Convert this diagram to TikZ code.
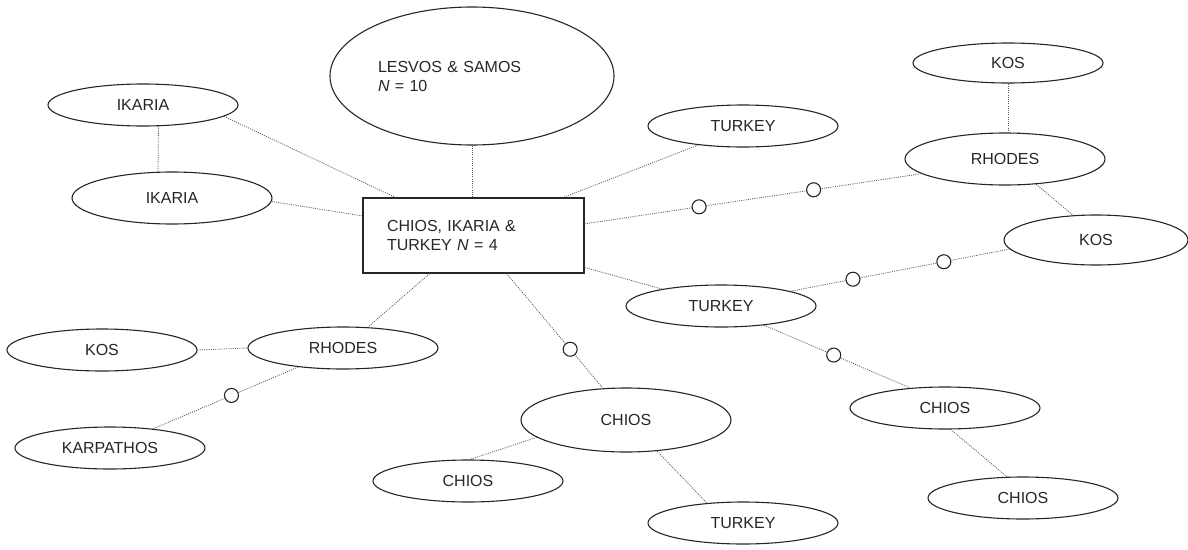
\documentclass[tikz,border=0pt]{standalone}
\usepackage{fontspec}
\setmainfont{Liberation Sans}
\usetikzlibrary{shapes.geometric}

\begin{document}
\begin{tikzpicture}[x=1pt,y=-1pt,
  island/.style={draw=black!85, line width=1.1pt, ellipse, inner sep=0pt,
    minimum width=190pt, minimum height=42pt, text=black!85,
    font=\fontsize{16}{19}\selectfont},
  link/.style={draw=black!65, line width=0.8pt, dash pattern=on 1pt off 1.2pt},
  hop/.style={draw=black!85, solid, line width=1.1pt, circle, fill=white,
    inner sep=0pt, minimum size=14pt}]

\useasboundingbox (0,0) rectangle (1188,549);

% centre box and big ellipse
\node[draw=black!85, line width=1.1pt, minimum width=221pt, minimum height=75pt,
  inner sep=0pt, text width=173pt, align=left, text=black!85,
  font=\fontsize{16}{19}\selectfont] (hub) at (473.5,235.5)
  {CHIOS, IKARIA \&\\TURKEY \textit{N} = 4};
\node[island, minimum width=284pt, minimum height=138pt, text width=188pt,
  align=left] (lesvos) at (472,76) {LESVOS \& SAMOS\\\textit{N} = 10};

% upper left
\node[island] (ika1) at (143,105) {IKARIA};
\node[island, minimum width=200pt, minimum height=52pt] (ika2) at (172,198) {IKARIA};

% right side
\node[island] (turk1) at (743,126) {TURKEY};
\node[island, minimum height=40pt] (kos1) at (1008,63) {KOS};
\node[island, minimum width=200pt, minimum height=52pt] (rho1) at (1005,159) {RHODES};
\node[island, minimum width=184pt, minimum height=50pt] (kos2) at (1096,240) {KOS};
\node[island] (turk2) at (721,306) {TURKEY};
\node[island] (chios3) at (945,408) {CHIOS};
\node[island] (chios4) at (1023,498) {CHIOS};

% lower left
\node[island] (kos3) at (102,350) {KOS};
\node[island] (rho2) at (343,348) {RHODES};
\node[island] (karp) at (110,448) {KARPATHOS};

% bottom
\node[island, minimum width=210pt, minimum height=64pt] (chios1) at (626,420) {CHIOS};
\node[island] (chios2) at (468,481) {CHIOS};
\node[island] (turk3) at (743,523) {TURKEY};

% links
\draw[link] (ika1.-54) -- (ika2.118);
\draw[link] (ika1.-8) -- (hub.154);
\draw[link] (ika2.-2) -- (hub.170);
\draw[link] (lesvos.south) -- (lesvos.south |- hub.north);
\draw[link] (turk1.-157) -- (hub.23);
\draw[link] (hub.6) -- node[hop, pos=.34] (h1) {} node[hop, pos=.68] (h2) {} (rho1.-170);
\draw[link] (kos1.south) -- (kos1.south |- rho1.north);
\draw[link] (rho1.-39) -- (kos2.133);
\draw[link] (kos2.-174) -- node[hop, pos=.3] (h3) {} node[hop, pos=.715] (h4) {} (turk2.12);
\draw[link] (hub.-16) -- (turk2.164);
\draw[link] (turk2.-24) -- node[hop, pos=.476] (h5) {} (chios3.150);
\draw[link] (chios3.-75) -- (chios4.127);
\draw[link] (hub.-139) -- (rho2.40);
\draw[link] (kos3.east) -- (rho2.west);
\draw[link] (rho2.-157) -- node[hop, pos=.46] (h6) {} (karp.24);
\draw[link] (hub.-49) -- node[hop, pos=.66] (h7) {} (chios1.126);
\draw[link] (chios1.-169) -- (chios2.85);
\draw[link] (chios1.-45) -- (turk3.151);

\end{tikzpicture}
\end{document}
